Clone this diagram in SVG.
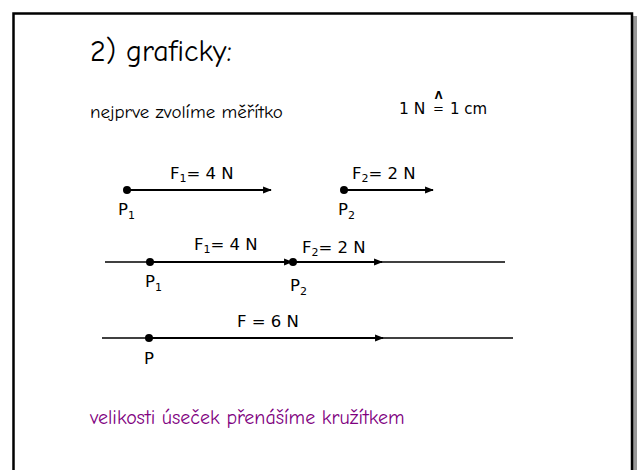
<svg xmlns="http://www.w3.org/2000/svg" width="637" height="470" viewBox="0 0 637 470">
<defs>
<style>
.hand{font-family:"Comic Neue","Noto Sans","DejaVu Sans",sans-serif;fill:#000}
.lbl{font-family:"DejaVu Sans","Liberation Sans",sans-serif;font-size:16.5px;fill:#000}
.sub{font-size:11px}
.thin{stroke:#000;stroke-width:1.3;fill:none}
.thick{stroke:#000;stroke-width:2.2;fill:none}
.dot{fill:#000}
</style>
<marker id="ah" viewBox="0 0 10 10" refX="9" refY="5" markerWidth="4" markerHeight="4" orient="auto" markerUnits="strokeWidth">
<path d="M0,1 L10,5 L0,9 z" fill="#000"/>
</marker>
</defs>
<rect x="0" y="0" width="637" height="470" fill="#fff"/>
<rect x="633" y="16" width="4" height="460" fill="#999"/>
<rect x="13.5" y="13.5" width="618.5" height="470" fill="#fff" stroke="#000" stroke-width="2.5"/>
<g id="title"><text class="hand" x="90" y="61" font-size="30" font-weight="500">2) graficky:</text></g>
<g id="scale">
<text class="hand" x="90" y="118" font-size="19" font-weight="500">nejprve zvolíme měřítko</text>
<text class="lbl" x="399" y="114" style="font-size:15.5px">1 N</text>
<text class="lbl" x="433" y="113" style="font-size:13px">=</text>
<text class="lbl" x="450" y="114" style="font-size:15px">1 cm</text>
<text class="lbl" x="438.5" y="99" style="font-size:10px;font-weight:bold" text-anchor="middle">Λ</text>
</g>
<g id="connectors">
<line class="thick" x1="127" y1="190" x2="271" y2="190" marker-end="url(#ah)"/>
<line class="thick" x1="344" y1="190" x2="433" y2="190" marker-end="url(#ah)"/>
<line class="thin" x1="105" y1="262" x2="505" y2="262"/>
<line class="thick" x1="150" y1="262" x2="292" y2="262" marker-end="url(#ah)"/>
<line class="thick" x1="293" y1="262" x2="382" y2="262" marker-end="url(#ah)"/>
<line class="thin" x1="102" y1="338" x2="513" y2="338"/>
<line class="thick" x1="149" y1="338" x2="383" y2="338" marker-end="url(#ah)"/>
</g>
<g id="row1">
<circle class="dot" cx="127" cy="190" r="4"/>
<text class="lbl" x="170" y="179">F<tspan class="sub" dy="3">1</tspan><tspan dy="-3">= 4 N</tspan></text>
<text class="lbl" x="118" y="215">P<tspan class="sub" dy="4">1</tspan></text>
<circle class="dot" cx="344" cy="190" r="4"/>
<text class="lbl" x="352" y="179">F<tspan class="sub" dy="3">2</tspan><tspan dy="-3">= 2 N</tspan></text>
<text class="lbl" x="338" y="215">P<tspan class="sub" dy="4">2</tspan></text>
</g>
<g id="row2">
<circle class="dot" cx="150" cy="262" r="4"/>
<circle class="dot" cx="293" cy="262" r="4"/>
<text class="lbl" x="194" y="250">F<tspan class="sub" dy="3">1</tspan><tspan dy="-3">= 4 N</tspan></text>
<text class="lbl" x="302" y="253">F<tspan class="sub" dy="3">2</tspan><tspan dy="-3">= 2 N</tspan></text>
<text class="lbl" x="145" y="287">P<tspan class="sub" dy="4">1</tspan></text>
<text class="lbl" x="290" y="291">P<tspan class="sub" dy="4">2</tspan></text>
</g>
<g id="row3">
<circle class="dot" cx="149" cy="338" r="4"/>
<text class="lbl" x="237" y="327">F = 6 N</text>
<text class="lbl" x="144" y="364">P</text>
</g>
<g id="note"><text class="hand" x="90" y="424" font-size="20" font-weight="500" style="fill:#800080">velikosti úseček přenášíme kružítkem</text></g>
</svg>
